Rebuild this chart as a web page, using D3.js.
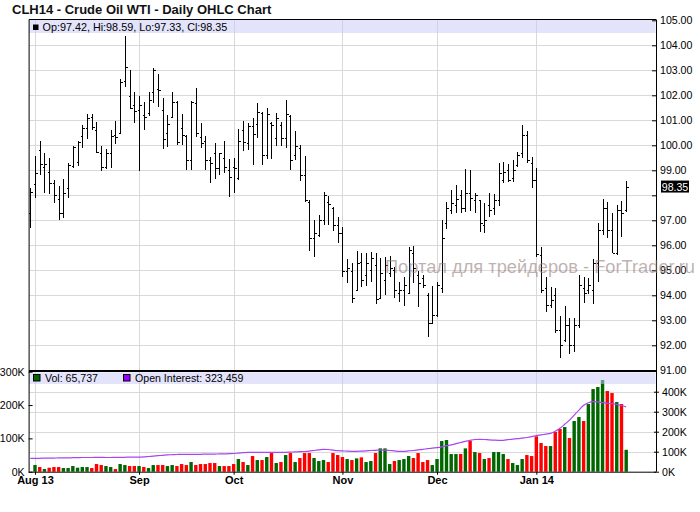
<!DOCTYPE html>
<html><head><meta charset="utf-8">
<script src="https://cdn.jsdelivr.net/npm/d3@7"></script>
<style>
body{margin:0;background:#fff}
svg{display:block}
text{font-family:"Liberation Sans",Arial,Helvetica,sans-serif}
</style>
</head><body>
<svg id="chart" width="700" height="512"></svg>
<script>
// ---- data (first entry = Jul 31 2013, last = Jan 30 2014) ----
const opens = [97.29,
98.45,99.81,99.14,98.94,98.48,97.84,97.30,98.28,99.17,99.34,
100.37,100.70,101.14,100.60,99.68,99.14,99.70,100.41,100.48,102.57,
101.97,101.61,101.40,101.21,101.28,102.14,102.24,101.41,100.50,101.12,
101.74,100.68,100.37,99.41,101.70,100.34,100.17,99.41,99.70,99.10,
99.50,99.00,99.14,98.70,100.60,100.10,100.78,100.85,101.30,99.60,
100.90,100.30,100.81,100.28,101.18,99.60,99.90,98.80,97.74,96.30,
96.40,97.00,97.75,97.50,96.80,96.50,94.98,94.98,94.21,95.35,
94.80,95.00,95.20,93.90,94.60,94.90,95.00,94.10,94.20,94.10,
95.70,94.80,94.70,94.00,92.90,93.20,94.30,96.90,97.40,97.60,
98.00,97.50,98.10,97.80,97.80,96.80,97.60,97.50,97.80,98.60,
99.00,98.70,99.20,99.70,100.40,99.30,98.60,95.60,94.30,93.60,
94.00,92.60,92.20,92.80,92.00,92.80,94.30,94.20,94.20,95.30,
96.60,97.50,96.60,95.70,97.40,97.42];
const highs = [98.29,
99.57,100.17,99.70,99.50,98.61,98.38,98.64,99.30,99.97,100.17,
100.80,101.24,101.25,100.93,99.98,99.85,100.61,100.97,102.66,104.37,
103.01,102.14,101.99,101.74,102.14,103.10,102.84,101.88,101.21,102.14,
101.78,101.24,100.41,101.77,102.28,100.90,100.37,99.54,100.10,99.70,
100.17,99.46,99.50,100.65,100.97,100.90,101.08,101.70,101.34,101.48,
100.94,101.28,100.94,101.81,101.21,100.57,100.01,99.57,97.81,97.01,
97.21,98.14,97.97,97.52,97.14,96.72,95.44,95.28,95.78,95.68,
95.68,95.74,95.70,95.48,95.52,95.57,95.14,94.54,94.72,95.94,
95.97,94.98,94.81,94.08,94.37,94.54,97.01,97.75,98.21,98.41,
98.21,99.07,99.03,98.10,97.81,97.68,98.08,98.05,99.30,99.34,
99.24,99.41,99.74,100.81,100.58,99.54,99.10,95.94,94.74,94.34,
94.31,93.17,93.57,93.10,93.10,94.81,94.74,94.68,95.44,96.90,
97.84,97.74,97.28,97.61,97.78,98.59];
const lows = [96.70,
97.90,98.81,98.08,98.04,97.70,97.01,97.08,97.90,99.08,99.18,
99.88,100.24,100.61,99.70,98.99,99.05,99.10,100.06,100.48,102.34,
101.45,100.88,98.98,100.61,101.17,101.68,101.54,99.84,99.94,101.10,
100.01,100.01,99.01,99.01,100.34,99.88,99.01,98.48,98.64,98.81,
98.90,97.94,98.08,98.61,99.78,99.81,99.21,100.28,99.21,99.44,
99.44,99.97,99.97,99.88,99.01,99.41,98.58,97.74,95.78,95.54,
96.34,96.81,96.81,96.58,96.10,94.72,94.48,93.70,94.21,94.34,
94.37,94.54,93.65,93.88,94.01,94.72,93.88,93.74,93.57,94.10,
94.48,93.54,94.28,92.34,92.88,93.14,94.10,96.64,97.25,97.30,
97.28,97.34,97.38,97.30,96.54,96.50,97.12,97.21,97.57,98.48,
98.54,98.54,99.14,99.50,99.28,98.28,95.55,94.08,93.34,93.48,
92.48,91.48,92.14,91.65,91.72,92.68,93.68,94.05,93.65,94.54,
96.41,96.28,95.68,95.61,96.32,97.33];
const closes = [98.14,
98.90,99.25,99.25,98.48,98.00,97.28,98.10,99.20,99.94,100.12,
100.68,101.10,100.72,99.72,99.14,99.68,100.38,100.32,102.54,103.14,
101.48,101.38,101.60,101.14,101.81,103.01,102.21,100.27,100.84,101.74,
100.12,100.41,99.41,101.74,100.50,100.08,99.41,99.28,99.08,99.68,
99.14,98.74,99.08,100.17,100.14,100.76,100.46,101.34,99.60,101.24,
100.80,101.08,100.28,101.24,99.41,99.97,98.80,97.80,96.28,96.50,
97.00,98.00,97.65,96.80,96.50,94.98,95.10,93.90,95.30,94.60,
95.30,95.50,93.86,94.90,95.20,95.10,94.20,94.20,94.40,95.80,
95.10,94.50,94.40,92.88,93.20,94.40,96.30,97.50,97.70,97.85,
97.50,98.10,97.90,98.00,96.90,97.00,97.40,97.80,98.90,98.95,
98.60,99.00,99.60,100.40,99.40,98.60,95.65,94.20,93.60,93.80,
92.60,92.00,92.80,92.00,92.80,94.40,94.10,94.40,95.30,96.60,
97.50,96.60,95.70,97.40,97.30,98.35];
// volume in thousands of contracts (none shown for the first session)
const volumesK = [null,
20,14,8,12,14,14,11,11,17,12,
14,14,11,23,20,17,14,8,23,20,
17,17,17,14,11,20,20,20,17,20,
17,23,20,29,20,23,23,26,26,17,
17,17,23,38,29,20,47,35,35,44,
56,26,29,50,56,29,41,56,56,41,
32,35,29,56,50,44,38,35,40,43,
29,32,56,70,70,23,32,35,38,47,
41,56,29,35,20,38,92,95,53,53,
53,70,92,59,56,38,41,59,59,53,
38,26,20,38,50,47,106,86,77,77,
119,128,134,101,152,164,152,203,248,254,
275,242,236,209,203,65.737];
// open interest in thousands
const openInterestK = [67,
67,67,68,68,68,69,69,69,70,70,
71,71,71,72,72,71,71,72,72,72,
73,73,73,74,76,78,80,82,84,85,
86,87,87,87,87,87,88,88,88,89,
89,90,91,93,95,97,97,97,97,97,
97,97,97,97,98,99,100,101,103,106,
109,112,111,108,105,104,103,102,102,103,
104,106,107,108,108,106,104,102,102,104,
106,109,112,115,118,120,124,130,134,140,
146,152,157,161,162,161,159,158,157,157,
160,163,165,168,171,175,180,184,188,192,
202,217,237,258,283,308,332,345,350,349,
345,342,340,337,331,323.459];
const monthLabels = ["Aug 13","Sep","Oct","Nov","Dec","Jan 14"];
const monthStartIdx = [1,23,43,66,86,107];   // session index of first trading day of each month
const priceTicks = [91,92,93,94,95,96,97,98,99,100,101,102,103,104,105];
const volTicks = [0,100,200,300];
const oiTicks = [0,100,200,300,400];
const title = "CLH14 - Crude Oil WTI - Daily OHLC Chart";
const watermark = "Портал для трейдеров - ForTrader.ru";

// ---- layout ----
const svg = d3.select("#chart");
const L = 28.6, R = 656, PT = 20.3, PB = 370.3, VT = 371.7, VB = 471.7;
const x = d3.scaleLinear().domain([-0.27, 132.3]).range([29, 656]);
const yP = d3.scaleLinear().domain([91, 105]).range([PB, PT]);
const yV = d3.scaleLinear().domain([0, 300]).range([VB, VT]);
const yOI = d3.scaleLinear().domain([0, 500]).range([VB, VT]);
const gridC = "#d9d9d9";
const n = closes.length;
const idx = d3.range(n);
const last = n-1;
const lp = closes[last];

svg.append("rect").attr("width",700).attr("height",512).attr("fill","#fff");

// title
svg.append("text").attr("x",12).attr("y",14).attr("font-size","13px")
  .attr("font-weight","bold").attr("fill","#111").text(title);

// grids
const grid = svg.append("g").attr("stroke",gridC).attr("stroke-width",1).attr("shape-rendering","crispEdges");
grid.selectAll(".hp").data(priceTicks.filter(t=>t>91 && t<105)).join("line")
  .attr("x1",L).attr("x2",R).attr("y1",d=>Math.round(yP(d))+0.5).attr("y2",d=>Math.round(yP(d))+0.5);
grid.selectAll(".hv").data(oiTicks.filter(t=>t>0)).join("line")
  .attr("x1",L).attr("x2",R).attr("y1",d=>Math.round(yOI(d))+0.5).attr("y2",d=>Math.round(yOI(d))+0.5);
grid.selectAll(".vx").data(monthStartIdx).join("line")
  .attr("x1",d=>Math.round(x(d))+0.5).attr("x2",d=>Math.round(x(d))+0.5).attr("y1",PT).attr("y2",VB);

// OHLC bars
const bars = svg.append("g").attr("stroke","#000").attr("stroke-width",1).attr("shape-rendering","crispEdges");
idx.forEach(i=>{
  const cx = Math.round(x(i))+0.5;
  bars.append("line").attr("x1",cx).attr("x2",cx).attr("y1",yP(highs[i])).attr("y2",yP(lows[i]));
  const yo = Math.round(yP(opens[i]))+0.5, yc = Math.round(yP(closes[i]))+0.5;
  bars.append("line").attr("x1",cx-2).attr("x2",cx).attr("y1",yo).attr("y2",yo);
  bars.append("line").attr("x1",cx).attr("x2",cx+2).attr("y1",yc).attr("y2",yc);
});

// volume bars
svg.append("g").selectAll("rect").data(idx.filter(i=>volumesK[i]!=null)).join("rect")
  .attr("x",i=>x(i)-1.7).attr("width",3.4)
  .attr("y",i=>yV(volumesK[i])).attr("height",i=>VB-yV(volumesK[i]))
  .attr("fill",i=>closes[i]>=opens[i]?"#006600":"#ff0000");

// open interest line
svg.append("path").datum(idx).attr("fill","none").attr("stroke","#a845f5").attr("stroke-width",1.2)
  .attr("d",d3.line().x(i=>x(i)).y(i=>yOI(openInterestK[i])).curve(d3.curveMonotoneX));

// legend bands
svg.append("rect").attr("x",L+0.5).attr("y",20).attr("width",R-L-1).attr("height",13)
  .attr("fill","rgb(200,200,248)").attr("fill-opacity",0.5);
svg.append("rect").attr("x",L+0.5).attr("y",372.3).attr("width",R-L-1).attr("height",11.7)
  .attr("fill","rgb(200,200,248)").attr("fill-opacity",0.5);

// legends
svg.append("rect").attr("x",33).attr("y",24.5).attr("width",5.5).attr("height",5.5).attr("fill","#000");
svg.append("text").attr("x",42.5).attr("y",31).attr("font-size","10.8px").attr("fill","#000")
  .text(`Op:${opens[last].toFixed(2)}, Hi:${highs[last].toFixed(2)}, Lo:${lows[last].toFixed(2)}, Cl:${closes[last].toFixed(2)}`);
svg.append("rect").attr("x",33.5).attr("y",374.5).attr("width",6.5).attr("height",6.5)
  .attr("fill","#006600").attr("stroke","#000").attr("stroke-width",1);
svg.append("text").attr("x",45).attr("y",382.3).attr("font-size","10.6px").attr("fill","#000")
  .text("Vol: "+d3.format(",")(Math.round(volumesK[last]*1000)));
svg.append("rect").attr("x",123.5).attr("y",374.5).attr("width",6.5).attr("height",6.5)
  .attr("fill","#9900ff").attr("stroke","#000").attr("stroke-width",1);
svg.append("text").attr("x",135).attr("y",382.3).attr("font-size","10.6px").attr("fill","#000")
  .text("Open Interest: "+d3.format(",")(Math.round(openInterestK[last]*1000)));

// frame lines
const fr = svg.append("g").attr("stroke","#000").attr("shape-rendering","crispEdges");
fr.append("line").attr("x1",L).attr("x2",R).attr("y1",19.5).attr("y2",19.5);
fr.append("line").attr("x1",L).attr("x2",R).attr("y1",370.7).attr("y2",370.7).attr("stroke-width",2);

// axes
const axP = svg.append("g").attr("transform",`translate(${R},0)`)
  .call(d3.axisRight(yP).tickValues(priceTicks).tickFormat(d3.format(".2f")).tickSizeInner(-4).tickSizeOuter(0).tickPadding(4));
axP.select(".domain").attr("d",`M0.5,19.5V${VB}`);
// the last-price marker hides the label it would cover
axP.selectAll(".tick text").filter(d=>Math.abs(yP(d)-yP(lp))<11).remove();

const axOI = svg.append("g").attr("transform",`translate(${R},0)`)
  .call(d3.axisRight(yOI).tickValues(oiTicks).tickFormat(d=>d+"K").tickSizeInner(3).tickSizeOuter(0).tickPadding(3));
axOI.selectAll(".tick line").attr("x1",-2);
axOI.select(".domain").remove();

const axV = svg.append("g").attr("transform",`translate(${L},0)`)
  .call(d3.axisLeft(yV).tickValues(volTicks).tickFormat(d=>d+"K").tickSizeInner(3).tickSizeOuter(0).tickPadding(1));
axV.selectAll(".tick line").attr("x2",4);
axV.select(".domain").attr("d",`M0.5,19.5V${VB}`);

const axX = svg.append("g").attr("transform",`translate(0,${VB})`)
  .call(d3.axisBottom(x).tickValues(monthStartIdx).tickFormat((d,i)=>monthLabels[i]).tickSizeInner(3).tickSizeOuter(0).tickPadding(2));
axX.select(".domain").attr("d",`M${L},0.5H${R}`);
axX.selectAll(".tick text").attr("font-weight","bold").attr("font-size","11px");

[axP,axOI,axV].forEach(a=>a.selectAll(".tick text").attr("font-size","10.6px").attr("fill","#000"));
svg.selectAll(".domain,.tick line").attr("stroke","#000");
svg.selectAll("g text").attr("font-family",'"Liberation Sans",Arial,sans-serif');

// last price marker
svg.append("rect").attr("x",661).attr("y",yP(lp)-6).attr("width",28).attr("height",12).attr("fill","#000");
svg.append("text").attr("x",675).attr("y",yP(lp)+4).attr("text-anchor","middle").attr("font-size","10.6px")
  .attr("fill","#fff").text(lp.toFixed(2));

// watermark (drawn over the chart, semi-transparent, spanning ~310px)
const wm = svg.append("text").attr("x",385).attr("y",273).attr("font-size","16px")
  .attr("fill","rgb(150,125,125)").attr("fill-opacity",0.6).text(watermark);
const wlen = wm.node().getComputedTextLength();
if (wlen > 0) wm.attr("font-size", (16*310/wlen).toFixed(2)+"px");
</script>
</body></html>
